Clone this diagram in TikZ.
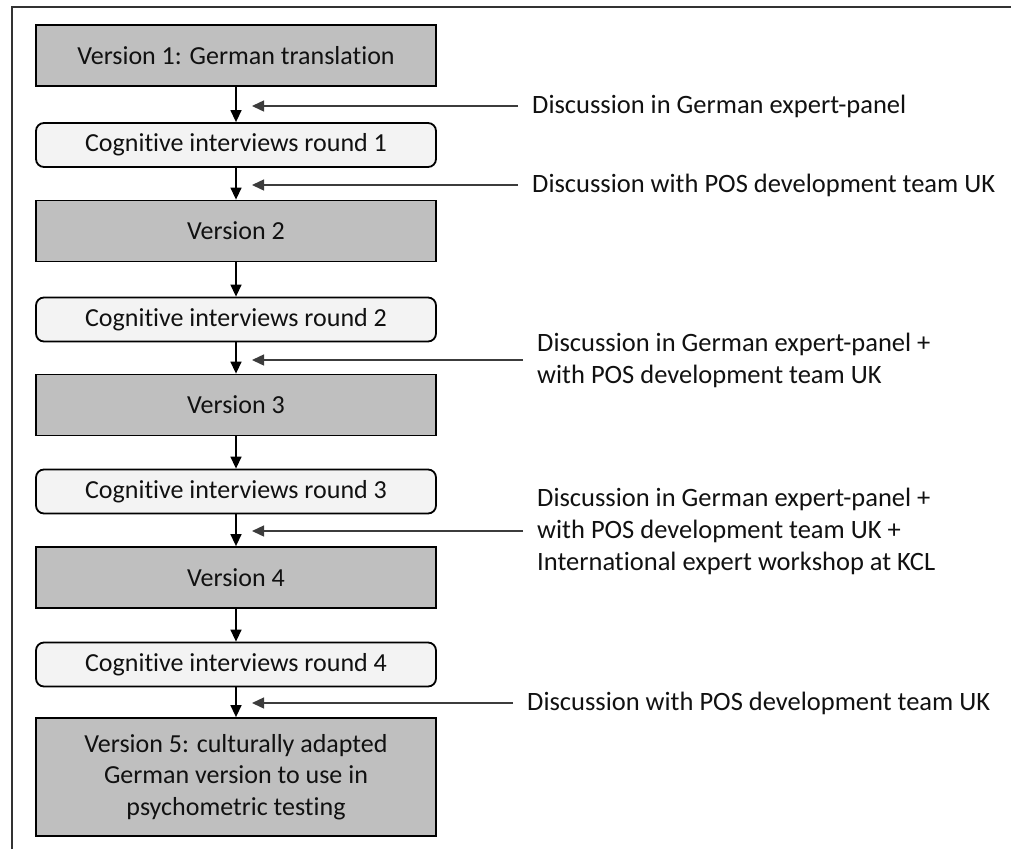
\documentclass[tikz,border=0pt]{standalone}
\usepackage{fontspec}
\setmainfont{Carlito}[Ligatures=NoCommon]
\usetikzlibrary{arrows.meta}
\definecolor{boxgray}{HTML}{BFBFBF}
\definecolor{boxlight}{HTML}{F3F3F3}
\definecolor{txt}{HTML}{111111}
\definecolor{sideline}{HTML}{3C3C3C}
\definecolor{framecol}{HTML}{333333}
\begin{document}
\begin{tikzpicture}[x=1pt,y=-1pt,
  version/.style={draw=black, line width=1.8pt, fill=boxgray, minimum width=400pt,
    minimum height=61pt, inner sep=0pt, font=\fontsize{26}{31.5}\selectfont, text=txt, align=center},
  cog/.style={draw=black, line width=1.8pt, fill=boxlight, rounded corners=8pt, minimum width=400pt,
    minimum height=44pt, inner sep=0pt, font=\fontsize{26}{31.5}\selectfont, text=txt, align=center},
  flow/.style={line width=1.4pt, black, -{Triangle[length=12pt,width=11pt]}},
  side/.style={line width=1.4pt, sideline, -{Triangle[length=12pt,width=11pt]}},
  note/.style={anchor=west, align=left, inner sep=0pt, font=\fontsize{26.5}{32}\selectfont, text=txt}]
\useasboundingbox (0,0) rectangle (1011,849);
\draw[line width=2pt, framecol] (12,849) -- (12,7) -- (1011,7);

\node[version] (v1) at (236,55.5) {Version 1: German translation};
\node[cog] (c1) at (236,145) {Cognitive interviews round 1};
\node[version] (v2) at (236,231) {Version 2};
\node[cog] (c2) at (236,319.5) {Cognitive interviews round 2};
\node[version] (v3) at (236,405) {Version 3};
\node[cog] (c3) at (236,491.5) {Cognitive interviews round 3};
\node[version] (v4) at (236,577.5) {Version 4};
\node[cog] (c4) at (236,664.5) {Cognitive interviews round 4};
\node[version, minimum height=118pt] (v5) at (236,777) {Version 5: culturally adapted\\German version to use in\\psychometric testing};

\draw[flow] (v1) -- (c1);
\draw[flow] (c1) -- (v2);
\draw[flow] (v2) -- (c2);
\draw[flow] (c2) -- (v3);
\draw[flow] (v3) -- (c3);
\draw[flow] (c3) -- (v4);
\draw[flow] (v4) -- (c4);
\draw[flow] (c4) -- (v5);

\node[note] (n1) at (532,106) {Discussion in German expert-panel};
\node[note] (n2) at (532,185) {Discussion with POS development team UK};
\node[note] (n3) at (537,360) {Discussion in German expert-panel +\\with POS development team UK};
\node[note] (n4) at (537,531) {Discussion in German expert-panel +\\with POS development team UK +\\International expert workshop at KCL};
\node[note] (n5) at (527,703) {Discussion with POS development team UK};

\coordinate (t1) at (252,106);
\coordinate (t2) at (252,185);
\coordinate (t3) at (252,360);
\coordinate (t4) at (252,531);
\coordinate (t5) at (252,703);

\draw[side] ([xshift=-14pt]n1.west) -- (t1);
\draw[side] ([xshift=-14pt]n2.west) -- (t2);
\draw[side] ([xshift=-14pt]n3.west) -- (t3);
\draw[side] ([xshift=-14pt]n4.west) -- (t4);
\draw[side] ([xshift=-14pt]n5.west) -- (t5);
\end{tikzpicture}
\end{document}
